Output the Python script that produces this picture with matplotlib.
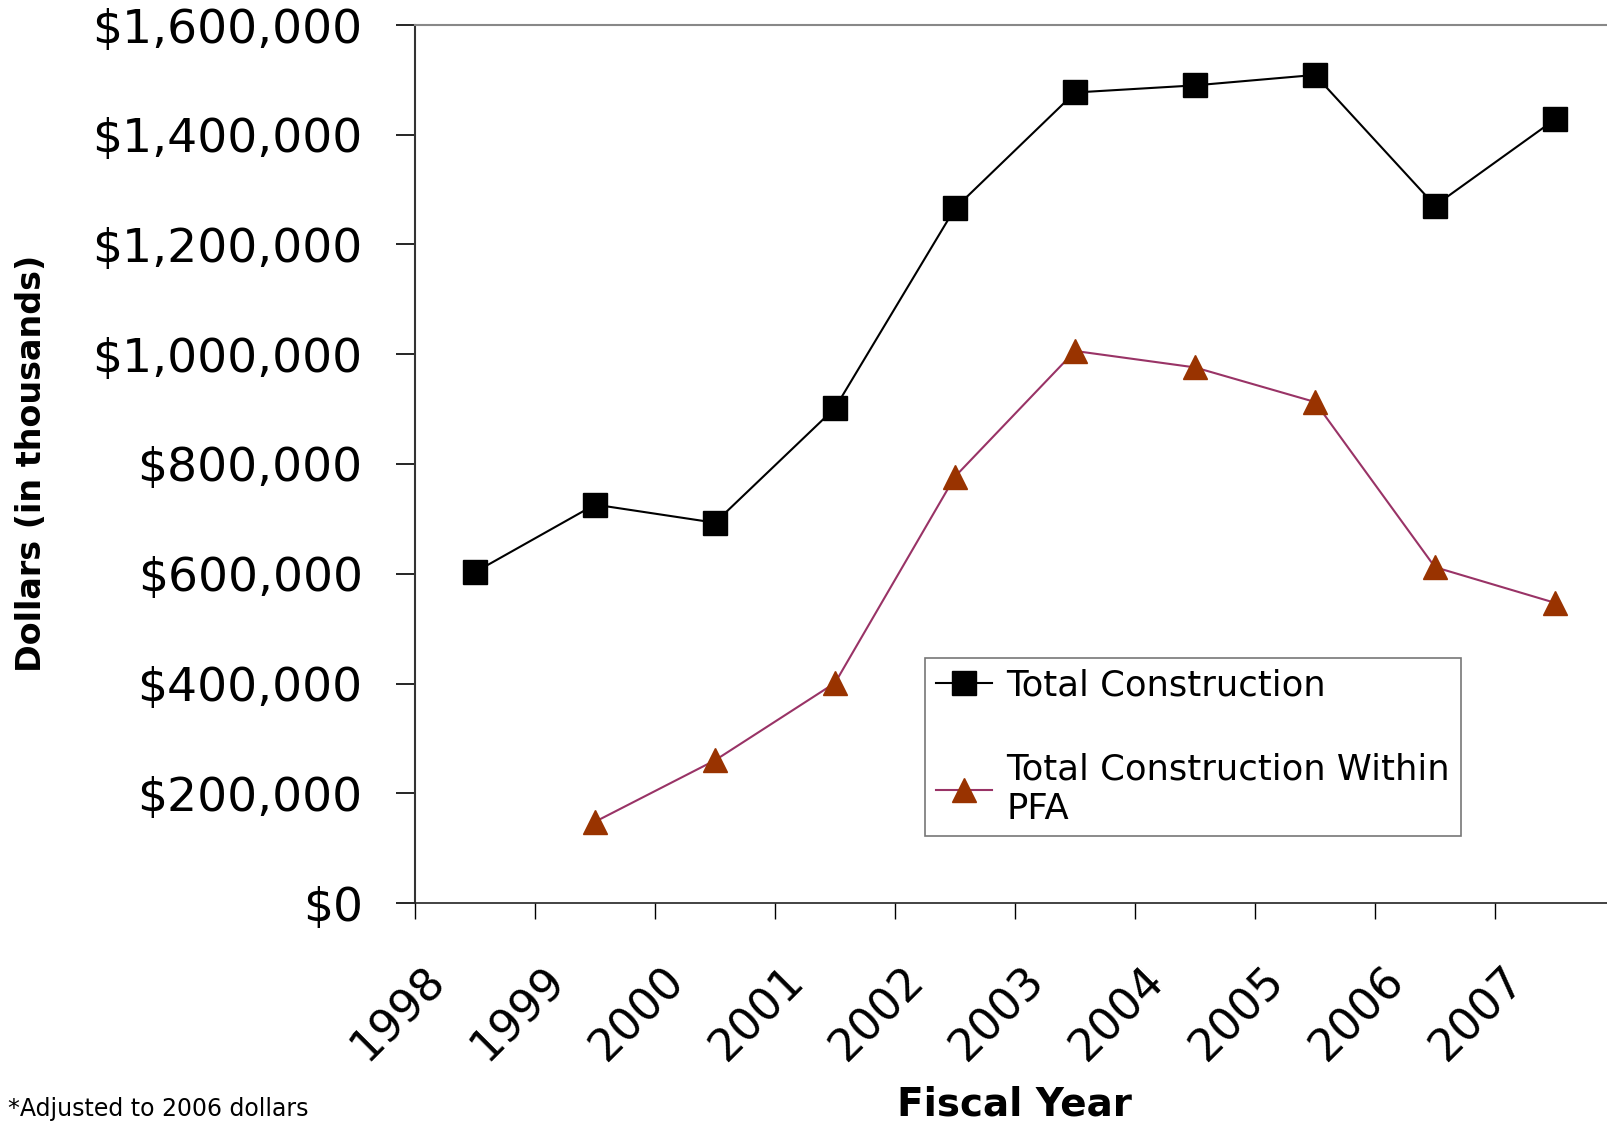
import matplotlib
matplotlib.use("Agg")
import matplotlib.pyplot as plt
from matplotlib.ticker import FuncFormatter

# datos (dolares, en miles)
years = ["1998", "1999", "2000", "2001", "2002", "2003", "2004", "2005", "2006", "2007"]
total_construction = [603000, 726000, 693000, 902000, 1266000, 1477000, 1490000, 1509000, 1271000, 1428000]
pfa_years = ["1999", "2000", "2001", "2002", "2003", "2004", "2005", "2006", "2007"]
pfa_construction = [148000, 260000, 401000, 777000, 1006000, 976000, 913000, 612000, 547000]

W, H = 1608, 1123
fig = plt.figure(figsize=(W / 100, H / 100), dpi=100)
ax = fig.add_axes([415 / W, 1 - 903 / H, (W - 415) / W, (903 - 25) / H])

x_tot = list(range(len(years)))
x_pfa = [years.index(y) for y in pfa_years]

l1, = ax.plot(x_tot, total_construction, color="black", lw=1.5, marker="s",
              markersize=17, markerfacecolor="black", markeredgecolor="black",
              label="Total Construction")
l2, = ax.plot(x_pfa, pfa_construction, color="#993366", lw=1.5, marker="^",
              markersize=17.5, markerfacecolor="#993300", markeredgecolor="#993300",
              label="Total Construction Within\nPFA")

ax.set_xlim(-0.5, -0.5 + (W - 415) / 120)
ax.set_ylim(0, 1600000)
ax.set_yticks(range(0, 1600001, 200000))
ax.yaxis.set_major_formatter(FuncFormatter(lambda v, p: "${:,.0f}".format(v)))
ax.tick_params(axis="y", direction="out", length=13.7, width=1.2, pad=24,
               labelsize=34, colors="black")

# ticks entre categorias, etiquetas aparte (ticks menores)
ax.set_xticks([i - 0.5 for i in range(len(years))])
ax.set_xticklabels([])
ax.tick_params(axis="x", which="major", direction="out", length=11.5, width=1.0)
ax.set_xticks([i - 0.44 for i in range(len(years))], minor=True)
ax.set_xticklabels(years, minor=True, rotation=45, ha="right", va="top",
                   rotation_mode="anchor", fontsize=32)
ax.tick_params(axis="x", which="minor", length=0, pad=40)

ax.spines["right"].set_visible(False)
ax.spines["top"].set_color("#888888")
ax.spines["top"].set_linewidth(1.5)
ax.spines["left"].set_color("#333333")
ax.spines["left"].set_linewidth(1.5)
ax.spines["bottom"].set_color("#222222")
ax.spines["bottom"].set_linewidth(1.2)

leg = ax.legend(handles=[l1, l2], loc="upper left",
                bbox_to_anchor=(925 / W, 1 - 839 / H, 536 / W, 181 / H),
                bbox_transform=fig.transFigure, mode="expand", borderaxespad=0,
                fontsize=25.5, frameon=True, fancybox=False, handlelength=1.6,
                handletextpad=0.4, borderpad=0.3, labelspacing=1.4)
leg.get_frame().set_edgecolor("#555555")
leg.get_frame().set_linewidth(1.2)

fig.text(32 / W, 1 - 463 / H, "Dollars (in thousands)", rotation=90,
         ha="center", va="center", fontsize=24, fontweight="bold")
fig.text(1014 / W, 1 - 1104 / H, "Fiscal Year", ha="center", va="center",
         fontsize=28, fontweight="bold")
fig.text(8 / W, 1 - 1109 / H, "*Adjusted to 2006 dollars", ha="left",
         va="center", fontsize=17)

fig.savefig("out.png", dpi=100)
